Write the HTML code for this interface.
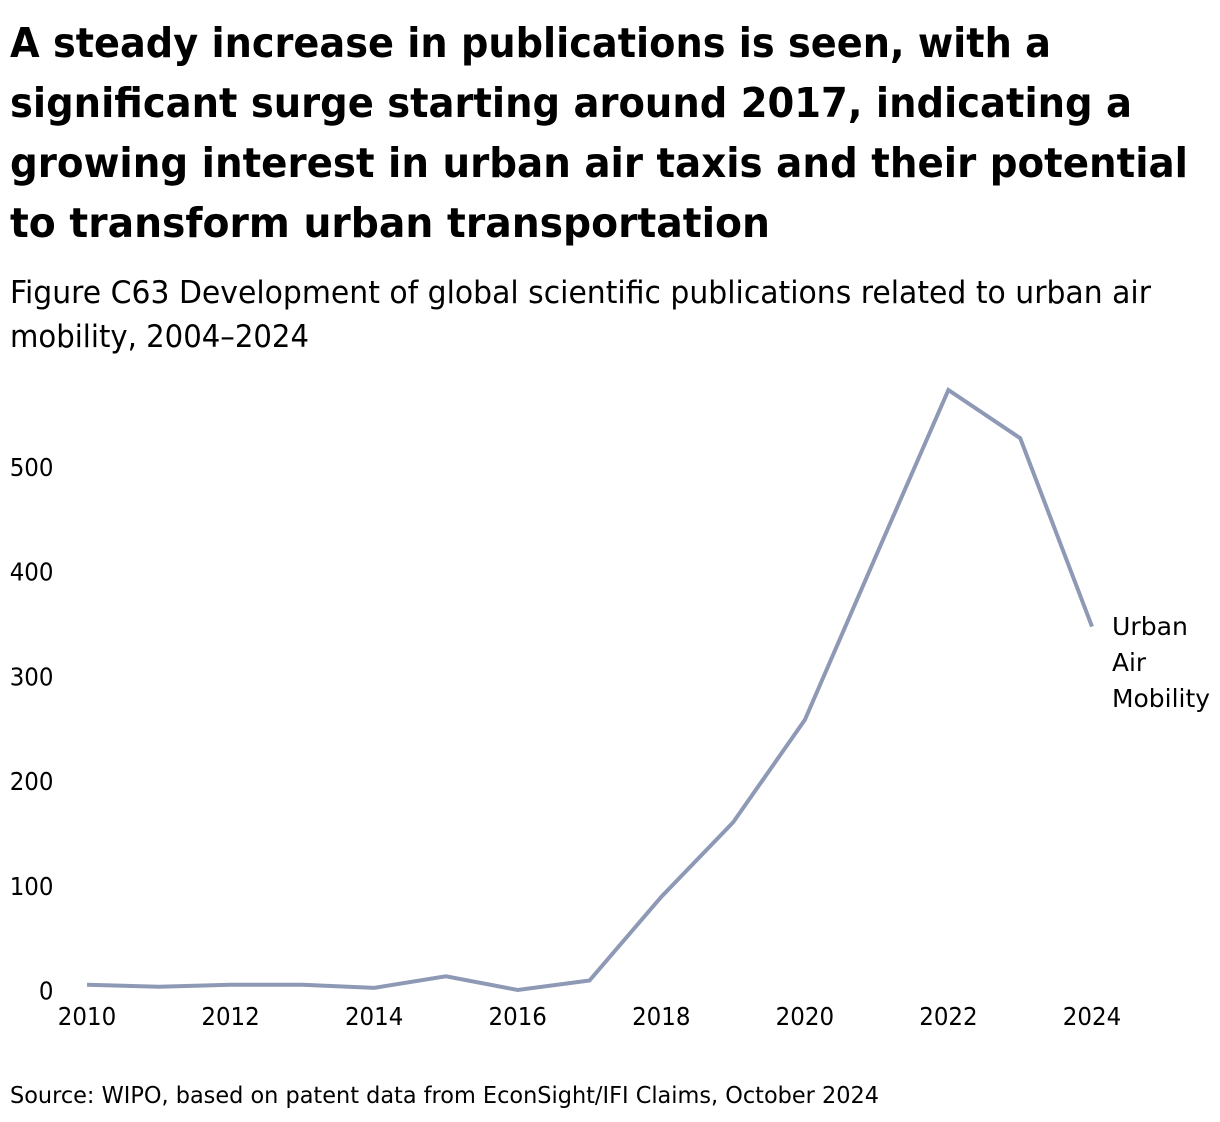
<!DOCTYPE html>
<html lang="en">
<head>
<meta charset="utf-8">
<title>Development of global scientific publications related to urban air mobility</title>
<style>
html,body{margin:0;padding:0;background:#fff;}
svg{display:block;}
text{font-family:"DejaVu Sans","Liberation Sans",sans-serif;fill:#000;}
.title{font-size:41px;font-weight:700;}
.sub{font-size:31px;}
.tick,.label{font-size:25px;}
.src{font-size:23px;}
</style>
</head>
<body>
<svg id="chart" xmlns="http://www.w3.org/2000/svg" width="1220" height="1122" viewBox="0 0 1220 1122">
  <g>
    <text class="title" x="10" y="57" textLength="1041" lengthAdjust="spacingAndGlyphs">A steady increase in publications is seen, with a</text>
    <text class="title" x="10" y="117" textLength="1122" lengthAdjust="spacingAndGlyphs">significant surge starting around 2017, indicating a</text>
    <text class="title" x="10" y="177" textLength="1178" lengthAdjust="spacingAndGlyphs">growing interest in urban air taxis and their potential</text>
    <text class="title" x="10" y="237" textLength="760" lengthAdjust="spacingAndGlyphs">to transform urban transportation</text>
  </g>
  <g>
    <text class="sub" x="10" y="303" textLength="1141" lengthAdjust="spacingAndGlyphs">Figure C63 Development of global scientific publications related to urban air</text>
    <text class="sub" x="10" y="347" textLength="299" lengthAdjust="spacingAndGlyphs">mobility, 2004–2024</text>
  </g>
  <g id="y-axis"></g>
  <g id="x-axis"></g>
  <path id="series-line" fill="none" stroke="#8d99b5" stroke-width="4" stroke-linejoin="miter" stroke-linecap="butt"></path>
  <g>
    <text class="label" x="1112" y="635" textLength="76" lengthAdjust="spacingAndGlyphs">Urban</text>
    <text class="label" x="1112" y="671" textLength="34" lengthAdjust="spacingAndGlyphs">Air</text>
    <text class="label" x="1112" y="707" textLength="98" lengthAdjust="spacingAndGlyphs">Mobility</text>
  </g>
  <text class="src" x="10" y="1103" textLength="869" lengthAdjust="spacingAndGlyphs">Source: WIPO, based on patent data from EconSight/IFI Claims, October 2024</text>
</svg>
<script>
const years = [2010,2011,2012,2013,2014,2015,2016,2017,2018,2019,2020,2021,2022,2023,2024];
const publications = [6,4,6,6,3,14,1,10,90,161,259,417,574,528,348];
const yTicks = [0,100,200,300,400,500];
const xTicks = [2010,2012,2014,2016,2018,2020,2022,2024];

function xScale(year){ return 87 + (year - 2010) * (1092 - 87) / 14; }
function yScale(value){ return 991 - value * (991 - 467.5) / 500; }

const NS = 'http://www.w3.org/2000/svg';
const DIGIT_WIDTH = 14.6;

const yGroup = document.getElementById('y-axis');
yTicks.forEach(function(t){
  const el = document.createElementNS(NS, 'text');
  
  
  el.setAttribute('class', 'tick');
  const s = String(t);
  el.setAttribute('x', 53.5);
  el.setAttribute('y', yScale(t) + 8.5);
  el.setAttribute('text-anchor', 'end');
  el.setAttribute('textLength', s.length * DIGIT_WIDTH);
  el.setAttribute('lengthAdjust', 'spacingAndGlyphs');
  el.textContent = s;
  yGroup.appendChild(el);
});

const xGroup = document.getElementById('x-axis');
xTicks.forEach(function(t){
  const el = document.createElementNS(NS, 'text');
  
  
  el.setAttribute('class', 'tick');
  const s = String(t);
  el.setAttribute('x', xScale(t));
  el.setAttribute('y', 1025);
  el.setAttribute('text-anchor', 'middle');
  el.setAttribute('textLength', s.length * DIGIT_WIDTH);
  el.setAttribute('lengthAdjust', 'spacingAndGlyphs');
  el.textContent = s;
  xGroup.appendChild(el);
});

document.getElementById('series-line').setAttribute('d',
  years.map(function(y, i){
    return (i ? 'L' : 'M') + xScale(y).toFixed(1) + ' ' + yScale(publications[i]).toFixed(1);
  }).join(' ')
);
</script>
</body>
</html>
